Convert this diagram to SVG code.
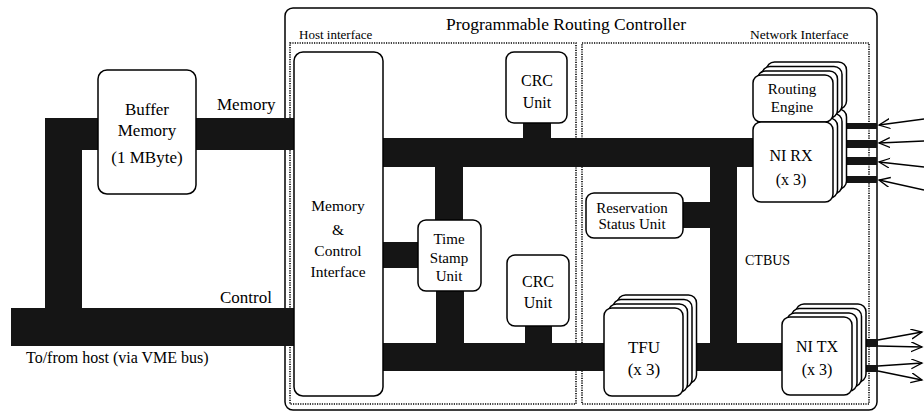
<svg xmlns="http://www.w3.org/2000/svg" width="924" height="412" viewBox="0 0 924 412">
<defs>
<style>
.box{fill:#fff;stroke:#000;stroke-width:1.5}
.frame{fill:none;stroke:#000;stroke-width:1.5}
.dot{fill:none;stroke:#000;stroke-width:1.6;stroke-dasharray:1.2 1.2}
.bus{fill:#151515}
.arr{stroke:#000;stroke-width:1.3;fill:none}
text{font-family:'Liberation Serif','DejaVu Serif',serif;fill:#000}
.c{text-anchor:middle}
</style>
<marker id="ah" markerUnits="userSpaceOnUse" markerWidth="14" markerHeight="12" refX="11" refY="5" orient="auto">
<path d="M0,0 L11,5 L0,10" fill="none" stroke="#000" stroke-width="1.3"/>
</marker>
</defs>
<rect width="924" height="412" fill="#fff"/>
<g font-family="Liberation Serif, DejaVu Serif, serif">
<g id="controller">
<rect class="frame" x="285" y="8" width="592" height="402" rx="8"/>
<text class="c" x="566" y="30" font-size="17.5">Programmable Routing Controller</text>
</g>
<g id="host-interface">
<rect class="dot" x="290" y="43" width="286" height="361"/>
<text x="299" y="39" font-size="13">Host interface</text>
</g>
<g id="network-interface">
<rect class="dot" x="582" y="43" width="287" height="361"/>
<text x="750" y="39" font-size="13.5">Network Interface</text>
</g>

<g id="connectors">
<rect class="bus" x="45" y="118" width="249" height="32"/>
<rect class="bus" x="45" y="118" width="37" height="228"/>
<rect class="bus" x="11" y="308" width="283" height="38"/>
<rect class="bus" x="383" y="138" width="370" height="29"/>
<rect class="bus" x="523" y="121" width="28" height="18"/>
<rect class="bus" x="435" y="166" width="28" height="55"/>
<rect class="bus" x="382" y="242" width="37" height="26"/>
<rect class="bus" x="436" y="290" width="28" height="54"/>
<rect class="bus" x="383" y="343" width="222" height="28"/>
<rect class="bus" x="525" y="325" width="27" height="19"/>
<rect class="bus" x="686" y="343" width="97" height="28"/>
<rect class="bus" x="710" y="166" width="27" height="178"/>
<rect class="bus" x="682" y="202" width="29" height="26"/>
<rect class="bus" x="845" y="123" width="32" height="6"/>
<rect class="bus" x="843" y="140" width="34" height="8"/>
<rect class="bus" x="843" y="157" width="34" height="8"/>
<rect class="bus" x="843" y="176" width="34" height="7"/>
<rect class="bus" x="862" y="339" width="16" height="8"/>
<rect class="bus" x="853" y="365" width="25" height="7"/>
<line class="arr" x1="924" y1="119" x2="879" y2="125" marker-end="url(#ah)"/>
<line class="arr" x1="924" y1="141" x2="879" y2="143" marker-end="url(#ah)"/>
<line class="arr" x1="924" y1="167" x2="879" y2="162" marker-end="url(#ah)"/>
<line class="arr" x1="924" y1="190" x2="879" y2="180" marker-end="url(#ah)"/>
<line class="arr" x1="878" y1="340" x2="922" y2="332" marker-end="url(#ah)"/>
<line class="arr" x1="878" y1="346" x2="922" y2="347" marker-end="url(#ah)"/>
<line class="arr" x1="878" y1="366" x2="922" y2="363" marker-end="url(#ah)"/>
<line class="arr" x1="878" y1="371" x2="922" y2="380" marker-end="url(#ah)"/>
<text x="217" y="110" font-size="17">Memory</text>
<text x="220" y="303" font-size="17">Control</text>
<text x="26" y="363" font-size="16">To/from host (via VME bus)</text>
<text x="745" y="265" font-size="14">CTBUS</text>
</g>

<g id="buffer-memory">
<rect class="box" x="98" y="70" width="98" height="124" rx="9"/>
<text class="c" x="147" y="115" font-size="17">Buffer</text>
<text class="c" x="147" y="136" font-size="17">Memory</text>
<text class="c" x="147" y="163" font-size="17">(1 MByte)</text>
</g>

<g id="memory-control-interface">
<rect class="box" x="294" y="52" width="89" height="344" rx="9"/>
<text class="c" x="338" y="211" font-size="15.5">Memory</text>
<text class="c" x="338" y="235" font-size="15.5">&amp;</text>
<text class="c" x="338" y="256" font-size="15.5">Control</text>
<text class="c" x="338" y="277" font-size="15.5">Interface</text>
</g>

<g id="crc-unit-top">
<rect class="box" x="506" y="52" width="61" height="71" rx="8"/>
<text class="c" x="537" y="86" font-size="16">CRC</text>
<text class="c" x="537" y="108" font-size="16">Unit</text>
</g>

<g id="time-stamp-unit">
<rect class="box" x="418" y="220" width="63" height="71" rx="8"/>
<text class="c" x="449" y="244" font-size="15">Time</text>
<text class="c" x="449" y="263" font-size="15">Stamp</text>
<text class="c" x="449" y="281" font-size="15">Unit</text>
</g>

<g id="crc-unit-bottom">
<rect class="box" x="507" y="255" width="62" height="71" rx="8"/>
<text class="c" x="538" y="287" font-size="16">CRC</text>
<text class="c" x="538" y="308" font-size="16">Unit</text>
</g>

<g id="reservation-status-unit">
<rect class="box" x="586" y="193" width="97" height="45" rx="8"/>
<text class="c" x="632" y="213" font-size="15">Reservation</text>
<text class="c" x="632" y="229" font-size="15">Status Unit</text>
</g>

<g id="tfu">
<rect class="box" x="617.5" y="295" width="79" height="88" rx="8"/>
<rect class="box" x="613" y="299.5" width="79" height="88" rx="8"/>
<rect class="box" x="608.5" y="304" width="79" height="88" rx="8"/>
<rect class="box" x="604" y="308" width="79" height="88" rx="8"/>
<text class="c" x="644" y="353" font-size="17">TFU</text>
<text class="c" x="644" y="375" font-size="17">(x 3)</text>
</g>

<g id="ni-rx">
<rect class="box" x="766.5" y="62" width="80" height="47" rx="8"/>
<rect class="box" x="766.5" y="109" width="80" height="80" rx="8"/>
<rect class="box" x="762" y="66.5" width="80" height="47" rx="8"/>
<rect class="box" x="762" y="113.5" width="80" height="80" rx="8"/>
<rect class="box" x="757.5" y="71" width="80" height="47" rx="8"/>
<rect class="box" x="757.5" y="118" width="80" height="80" rx="8"/>
<rect class="box" x="753" y="75" width="80" height="47" rx="8"/>
<rect class="box" x="753" y="122" width="80" height="80" rx="8"/>
<text class="c" x="792" y="94" font-size="15">Routing</text>
<text class="c" x="792" y="112" font-size="15">Engine</text>
<text class="c" x="791" y="161" font-size="16">NI RX</text>
<text class="c" x="791" y="185" font-size="16">(x 3)</text>
</g>

<g id="ni-tx">
<rect class="box" x="796" y="304" width="70" height="78" rx="8"/>
<rect class="box" x="791.5" y="308.5" width="70" height="78" rx="8"/>
<rect class="box" x="787" y="313" width="70" height="78" rx="8"/>
<rect class="box" x="782" y="317" width="70" height="78" rx="8"/>
<text class="c" x="817" y="352" font-size="16">NI TX</text>
<text class="c" x="817" y="375" font-size="16">(x 3)</text>
</g>
</g>
</svg>
